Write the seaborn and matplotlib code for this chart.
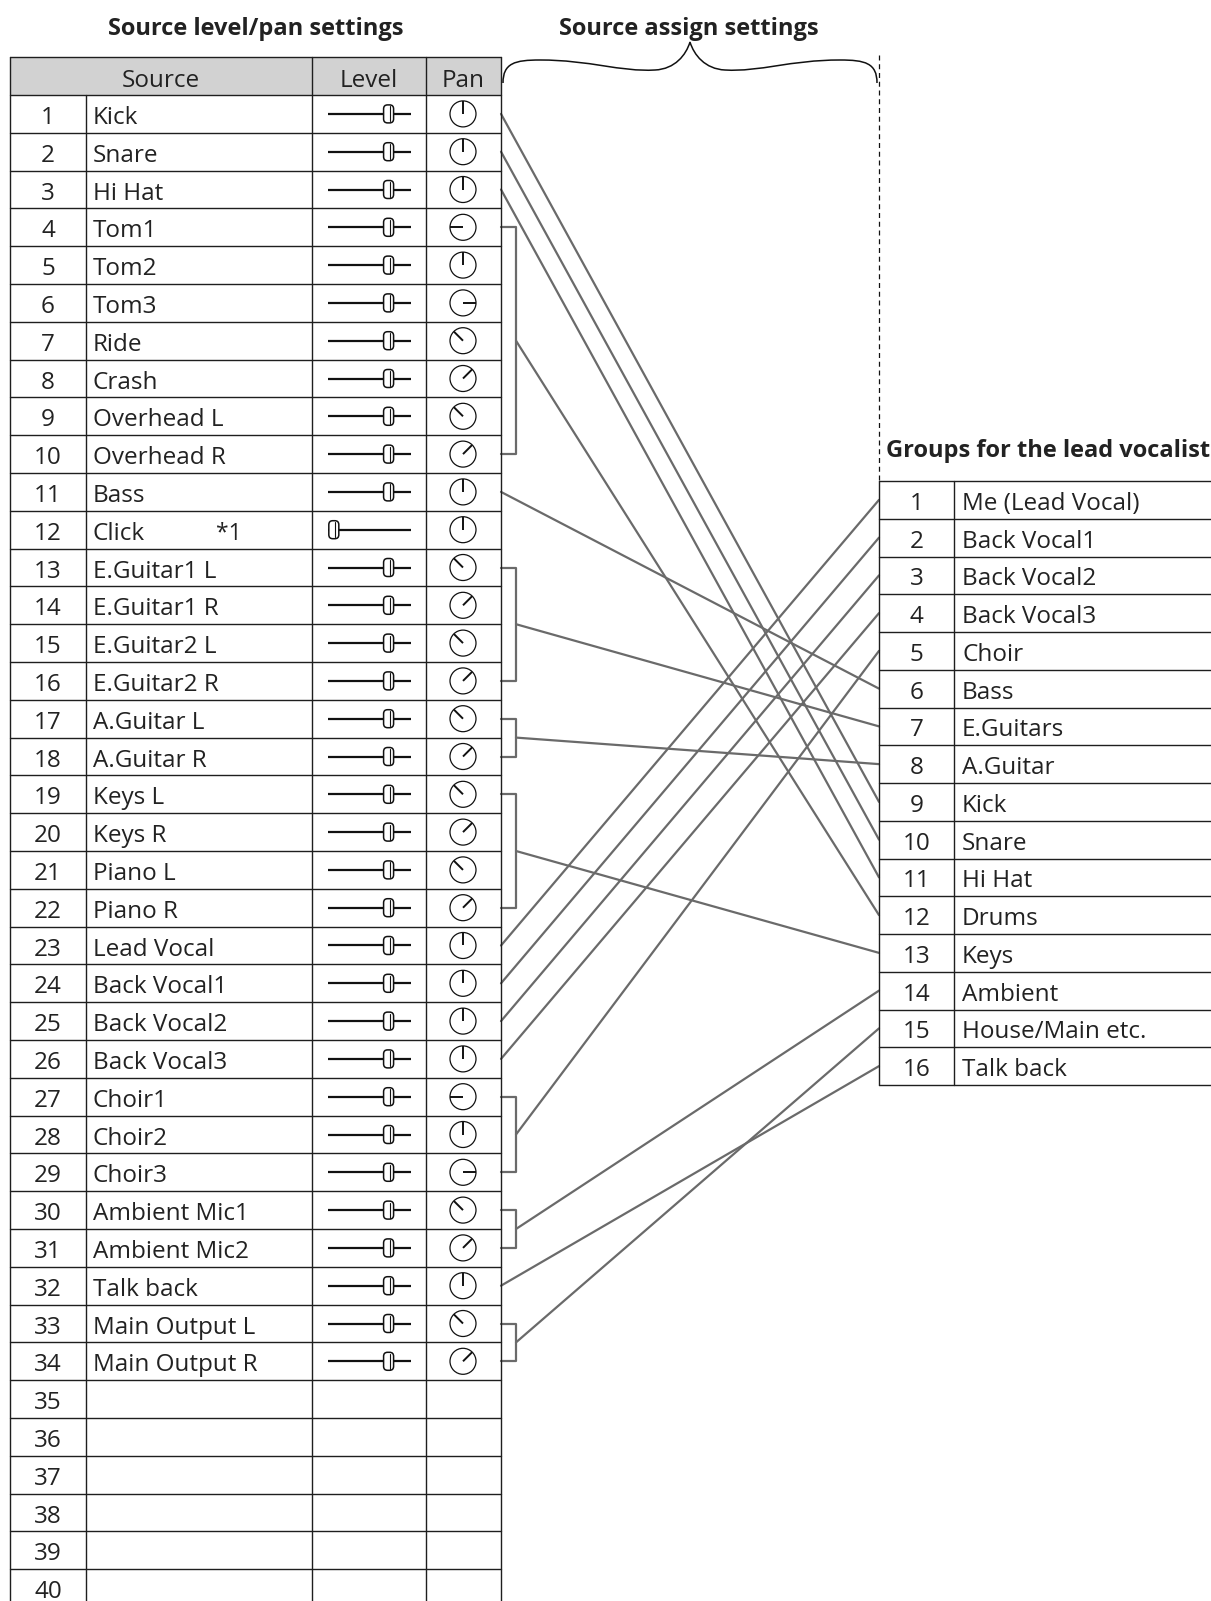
import matplotlib
matplotlib.use("Agg")
import matplotlib.pyplot as plt
from matplotlib.patches import Rectangle, Circle, FancyBboxPatch, PathPatch
from matplotlib.path import Path
import numpy as np
import pandas as pd
import seaborn as sns

# ---------------- data ----------------
source_names = ["Kick", "Snare", "Hi Hat", "Tom1", "Tom2", "Tom3", "Ride", "Crash",
                "Overhead L", "Overhead R", "Bass", "Click", "E.Guitar1 L", "E.Guitar1 R",
                "E.Guitar2 L", "E.Guitar2 R", "A.Guitar L", "A.Guitar R", "Keys L", "Keys R",
                "Piano L", "Piano R", "Lead Vocal", "Back Vocal1", "Back Vocal2", "Back Vocal3",
                "Choir1", "Choir2", "Choir3", "Ambient Mic1", "Ambient Mic2", "Talk back",
                "Main Output L", "Main Output R"]
n_rows = 40
# fader position (0 = bottom, 1 = top of travel)
levels = [0.73, 0.73, 0.73, 0.73, 0.73, 0.73, 0.73, 0.73, 0.73, 0.73, 0.73, 0.07,
          0.73, 0.73, 0.73, 0.73, 0.73, 0.73, 0.73, 0.73, 0.73, 0.73, 0.73, 0.73,
          0.73, 0.73, 0.73, 0.73, 0.73, 0.73, 0.73, 0.73, 0.73, 0.73]
# pan knob angle in degrees (0 = centre, negative = left, positive = right)
pans = [0, 0, 0, -90, 0, 90, -45, 45, -45, 45, 0, 0, -45, 45, -45, 45, -45, 45,
        -45, 45, -45, 45, 0, 0, 0, 0, -90, 0, 90, -45, 45, 0, -45, 45]
note_row = 12
note_text = "*1"

group_names = ["Me (Lead Vocal)", "Back Vocal1", "Back Vocal2", "Back Vocal3", "Choir",
               "Bass", "E.Guitars", "A.Guitar", "Kick", "Snare", "Hi Hat", "Drums",
               "Keys", "Ambient", "House/Main etc.", "Talk back"]

# source assignments: source range (first..last) -> group number
assign_first = [1, 2, 3, 4, 11, 13, 17, 19, 23, 24, 25, 26, 27, 30, 32, 33]
assign_last = [1, 2, 3, 10, 11, 16, 18, 22, 23, 24, 25, 26, 29, 31, 32, 34]
assign_group = [9, 10, 11, 12, 6, 7, 8, 13, 1, 2, 3, 4, 5, 14, 16, 15]

title_left = "Source level/pan settings"
title_mid = "Source assign settings"
title_right = "Groups for the lead vocalist"
header_labels = ["Source", "Level", "Pan"]

# ---------------- layout / style ----------------
W, H = 1211, 1601
sns.set_theme(style="white")
plt.rcParams["font.family"] = ["Open Sans", "DejaVu Sans"]

fig = plt.figure(figsize=(W / 100, H / 100), dpi=100)
ax = fig.add_axes([0, 0, 1, 1])

LINE = "#1e1e1e"
GRAY = "#6a6a6a"
TXT = "#222222"
FS = 17.5
TFS = 17

# left table geometry
xL = [10, 86, 312, 426, 501]
y_head = 57
y0 = 95
rh = 37.8
def row_c(i):
    return y0 + (i - 0.5) * rh

# right table geometry
rx = [879, 954, W + 5]
ry0 = 481
rrh = 37.75
def grow_c(g):
    return ry0 + (g - 0.5) * rrh

# header
ax.add_patch(Rectangle((xL[0], y_head), xL[-1] - xL[0], y0 - y_head,
                       facecolor="#d2d2d2", edgecolor="none", zorder=1))
y_bot = y0 + n_rows * rh
for k in range(n_rows + 1):
    ax.plot([xL[0], xL[-1]], [y0 + k * rh] * 2, color=LINE, lw=1.0, zorder=3)
ax.plot([xL[0], xL[-1]], [y_head] * 2, color=LINE, lw=1.0, zorder=3)
for j, x in enumerate(xL):
    top = y0 if j == 1 else y_head
    ax.plot([x, x], [top, y_bot], color=LINE, lw=1.0, zorder=3)

ax.text((xL[0] + xL[2]) / 2, y_head + 30, header_labels[0], ha="center", va="baseline", fontsize=FS, color=TXT)
ax.text((xL[2] + xL[3]) / 2, y_head + 30, header_labels[1], ha="center", va="baseline", fontsize=FS, color=TXT)
ax.text((xL[3] + xL[4]) / 2, y_head + 30, header_labels[2], ha="center", va="baseline", fontsize=FS, color=TXT)

# rows
trk0, trk1 = 328, 411
pan_x, pan_r = 463, 13
for i in range(1, n_rows + 1):
    cy = row_c(i)
    ax.text((xL[0] + xL[1]) / 2, cy + 10, str(i), ha="center", va="baseline", fontsize=FS, color=TXT)
    if i <= len(source_names):
        ax.text(xL[1] + 7, cy + 10, source_names[i - 1], ha="left", va="baseline", fontsize=FS, color=TXT)
        # fader
        ax.plot([trk0, trk1], [cy, cy], color="#111", lw=1.6, zorder=4, solid_capstyle="butt")
        kx = trk0 + levels[i - 1] * (trk1 - trk0)
        ax.add_patch(FancyBboxPatch((kx - 5, cy - 9), 10, 18,
                                    boxstyle="round,pad=0,rounding_size=4",
                                    facecolor="white", edgecolor="#111", lw=1.1, zorder=5))
        ax.plot([kx + 1.5, kx + 1.5], [cy - 7.5, cy + 7.5], color="#111", lw=0.8, zorder=6)
        # pan knob
        ax.add_patch(Circle((pan_x, cy), pan_r, facecolor="white", edgecolor="#111", lw=0.9, zorder=4))
        a = np.deg2rad(pans[i - 1])
        ax.plot([pan_x, pan_x + pan_r * np.sin(a)], [cy, cy - pan_r * np.cos(a)],
                color="#111", lw=1.4, zorder=5, solid_capstyle="butt")
ax.text(216, row_c(note_row) + 10, note_text, ha="left", va="baseline", fontsize=FS - 1, color=TXT)

# right table
for k in range(len(group_names) + 1):
    ax.plot([rx[0], rx[2]], [ry0 + k * rrh] * 2, color=LINE, lw=1.0, zorder=3)
for x in rx[:2]:
    ax.plot([x, x], [ry0, ry0 + len(group_names) * rrh], color=LINE, lw=1.0, zorder=3)
for g, name in enumerate(group_names, start=1):
    cy = grow_c(g)
    ax.text((rx[0] + rx[1]) / 2, cy + 10, str(g), ha="center", va="baseline", fontsize=FS, color=TXT)
    ax.text(rx[1] + 8, cy + 10, name, ha="left", va="baseline", fontsize=FS, color=TXT)

# titles
ax.text(256, 35, title_left, ha="center", va="baseline", fontsize=TFS, fontweight="bold", color=TXT)
ax.text(689, 35, title_mid, ha="center", va="baseline", fontsize=TFS, fontweight="bold", color=TXT)
ax.text(886, 457, title_right, ha="left", va="baseline", fontsize=TFS, fontweight="bold", color=TXT)

# dashed separator
ax.plot([rx[0], rx[0]], [55, ry0], color="#111", lw=0.9, ls=(0, (4, 3)), zorder=3)

# brace
bl, br, bc = 503, 877, 690
left_half = [(bl, 83), (bl, 63), (515, 60), (540, 60),
             (590, 60), (620, 72), (655, 70),
             (675, 69), (686, 55), (bc, 42)]
right_half = [(2 * bc - x, y) for (x, y) in reversed(left_half)]
verts = left_half + right_half[1:]
codes = [Path.MOVETO] + [Path.CURVE4] * 9 + [Path.CURVE4] * 9
ax.add_patch(PathPatch(Path(verts, codes), facecolor="none", edgecolor="#111", lw=1.1, zorder=3))

# assignment lines and brackets (drawn with seaborn)
bx = 516
recs = []
uid = 0
for f, l, g in zip(assign_first, assign_last, assign_group):
    yf, yl = row_c(f), row_c(l)
    if f == l:
        pts = [(xL[-1], yf), (rx[0], grow_c(g))]
    else:
        for (px, py) in [(xL[-1], yf), (bx, yf), (bx, yl), (xL[-1], yl)]:
            recs.append((px, py, uid))
        uid += 1
        pts = [(bx, (yf + yl) / 2), (rx[0], grow_c(g))]
    for (px, py) in pts:
        recs.append((px, py, uid))
    uid += 1
df = pd.DataFrame(recs, columns=["x", "y", "link"])
sns.lineplot(data=df, x="x", y="y", units="link", estimator=None, sort=False,
             color=GRAY, lw=1.6, ax=ax, legend=False, zorder=2)

ax.set_xlim(0, W)
ax.set_ylim(H, 0)
ax.axis("off")
fig.savefig("out.png", dpi=100, facecolor="white")
